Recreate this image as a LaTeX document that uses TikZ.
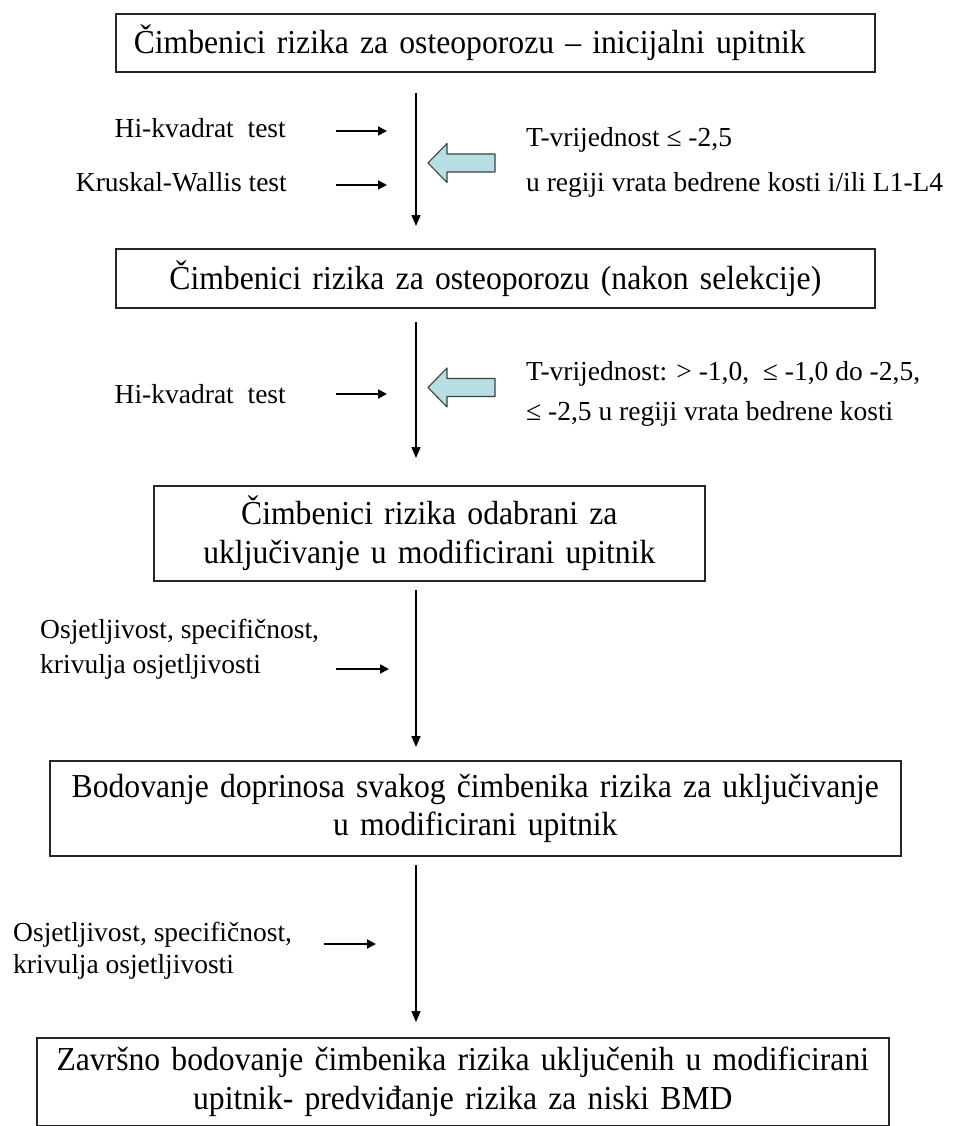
\documentclass[tikz,border=0pt]{standalone}
\usepackage{fontspec}
\setmainfont{Liberation Serif}
\newfontfamily\boxfont[FakeStretch=0.945]{Liberation Serif}
\usetikzlibrary{arrows.meta}
\definecolor{blarr}{HTML}{B7DEE3}
\tikzset{
  boxnode/.style={draw=black!85, line width=1.6pt, inner xsep=0pt, inner ysep=0pt, anchor=north west,
    font=\boxfont\fontsize{33.5}{38.5}\selectfont, align=center},
  lbl/.style={inner sep=0pt, font=\fontsize{27.5}{33}\selectfont},
  flow/.style={line width=1.3pt, -{Triangle[length=11pt,width=9pt]}},
  small/.style={line width=1.8pt, -{Triangle[length=9pt,width=9pt]}},
  leftarr/.pic={
    \draw[draw=black!75, fill=blarr, line width=1.1pt, line join=round]
      (-33.5,0) -- (-14.5,-19.5) -- (-14.5,-9) -- (33.5,-9) -- (33.5,9) -- (-14.5,9) -- (-14.5,19.5) -- cycle;
  }
}
\begin{document}
\begin{tikzpicture}[x=1pt,y=-1pt]
\useasboundingbox (0,0) rectangle (962,1126);
\fill[white] (0,0) rectangle (962,1126);

% boxes
\node[boxnode, minimum width=759pt, minimum height=58pt, text width=723pt, inner xsep=18pt, align=left] (b1) at (115,13)
  {Čimbenici rizika za osteoporozu – inicijalni upitnik};
\node[boxnode, minimum width=759pt, minimum height=59pt, text width=759pt] (b2) at (115,248)
  {Čimbenici rizika za osteoporozu (nakon selekcije)};
\node[boxnode, minimum width=551pt, minimum height=95pt, text width=551pt] (b3) at (153,485)
  {Čimbenici rizika odabrani za\\uključivanje u modificirani upitnik};
\node[boxnode, minimum width=851pt, minimum height=95pt, text width=851pt] (b4) at (49,760)
  {Bodovanje doprinosa svakog čimbenika rizika za uključivanje\\u modificirani upitnik};
\node[boxnode, minimum width=852pt, minimum height=88pt, text width=852pt] (b5) at (36,1037)
  {Završno bodovanje čimbenika rizika uključenih u modificirani\\upitnik- predviđanje rizika za niski BMD};

% main flow arrows
\coordinate (v1s) at (416,93);  \coordinate (v1e) at (416,226);
\coordinate (v2s) at (416,322); \coordinate (v2e) at (416,458);
\coordinate (v3s) at (416,590); \coordinate (v3e) at (416,747);
\coordinate (v4s) at (416,865); \coordinate (v4e) at (416,1022);
\draw[flow] (v1s) -- (v1e);
\draw[flow] (v2s) -- (v2e);
\draw[flow] (v3s) -- (v3e);
\draw[flow] (v4s) -- (v4e);

% section 1
\node[lbl, anchor=base east] (hk1) at (286,138) {Hi-kvadrat\ \ test};
\node[lbl, anchor=base east] (kw) at (287,192) {Kruskal-Wallis test};
\coordinate (s1s) at (336,131); \coordinate (s1e) at (387,131);
\coordinate (s2s) at (336,185); \coordinate (s2e) at (387,185);
\draw[small] (s1s) -- (s1e);
\draw[small] (s2s) -- (s2e);
\pic at (461.5,163) {leftarr};
\node[lbl, anchor=base west] (t1) at (526,147) {T-vrijednost ≤ -2,5};
\node[lbl, anchor=base west] (t2) at (526,192) {u regiji vrata bedrene kosti i/ili L1-L4};

% section 2
\node[lbl, anchor=base east] (hk2) at (286,403) {Hi-kvadrat\ \ test};
\coordinate (s3s) at (336,394); \coordinate (s3e) at (387,394);
\draw[small] (s3s) -- (s3e);
\pic at (461.5,387.5) {leftarr};
\node[lbl, anchor=base west] (t3) at (526,380) {T-vrijednost: > -1,0,\ \ ≤ -1,0 do -2,5,};
\node[lbl, anchor=base west] (t4) at (526,420) {≤ -2,5 u regiji vrata bedrene kosti};

% section 3
\node[lbl, anchor=base west] (o1a) at (40,638) {Osjetljivost, specifičnost,};
\node[lbl, anchor=base west] (o1b) at (40,673) {krivulja osjetljivosti};
\coordinate (s4s) at (336,669); \coordinate (s4e) at (389,669);
\draw[small] (s4s) -- (s4e);

% section 4
\node[lbl, anchor=base west] (o2a) at (13,941) {Osjetljivost, specifičnost,};
\node[lbl, anchor=base west] (o2b) at (13,973) {krivulja osjetljivosti};
\coordinate (s5s) at (324,944); \coordinate (s5e) at (376,944);
\draw[small] (s5s) -- (s5e);
\end{tikzpicture}
\end{document}
